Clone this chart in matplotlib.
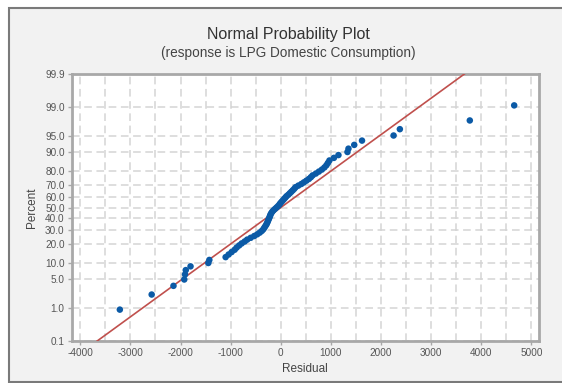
import matplotlib
matplotlib.use("Agg")
import matplotlib.pyplot as plt
from matplotlib.patches import Rectangle
from statistics import NormalDist
import numpy as np

plt.rcParams['font.family'] = ['Liberation Sans', 'DejaVu Sans']

title = "Normal Probability Plot"
subtitle = "(response is LPG Domestic Consumption)"
xlabel = "Residual"
ylabel = "Percent"

# sorted residuals
residuals = [
    -3210, -2575, -2140, -1925, -1910, -1895, -1800, -1445, -1425, -1100,
    -1040, -980, -920, -880, -830, -780, -720, -670, -600, -530,
    -470, -420, -380, -350, -330, -310, -290, -275, -262, -250,
    -238, -225, -215, -205, -190, -170, -145, -115, -85, -55,
    -30, -10, 15, 40, 65, 90, 115, 150, 180, 210,
    240, 270, 295, 350, 410, 460, 510, 560, 600, 635,
    700, 760, 820, 870, 910, 940, 970, 1060, 1150, 1330,
    1350, 1465, 1620, 2250, 2375, 3770, 4655,
]
line_mean = 0
line_sd = 1185

x_ticks = [-4000, -3000, -2000, -1000, 0, 1000, 2000, 3000, 4000, 5000]
y_ticks = [0.1, 1, 5, 10, 20, 30, 40, 50, 60, 70, 80, 90, 95, 99, 99.9]

nd = NormalDist()
n = len(residuals)
ranks = np.arange(1, n + 1)
pct = (ranks - 0.3) / (n + 0.4)
z = np.array([nd.inv_cdf(p) for p in pct])

fig = plt.figure(figsize=(5.62, 3.83), dpi=100)
fig.patch.set_facecolor('white')
# panel background
fig.patches.append(Rectangle((9 / 562, 0.003), 1.0, 1 - 8 / 383 - 0.003,
                             transform=fig.transFigure, facecolor='#f2f2f2',
                             edgecolor='#7a7a7a', linewidth=1.5, zorder=-5))

ax = fig.add_axes([71.7 / 562, 1 - 341 / 383, (539 - 71.7) / 562, (341 - 74) / 383])
ax.set_zorder(2)
ax.set_facecolor('white')

ylo, yhi = nd.inv_cdf(0.001), nd.inv_cdf(0.999)
ax.set_ylim(ylo, yhi)
ax.set_xlim(-4170, 5150)

# fitted line
zz = np.array([ylo, yhi])
ax.plot(line_mean + line_sd * zz, zz, color='#c0504d', lw=1.2, zorder=3)

ax.scatter(residuals, z, s=22, color='#0b5aa6', edgecolors='none', zorder=4)

ax.set_xticks(x_ticks)
ax.set_xticklabels([str(t) for t in x_ticks])
ax.set_xticks(np.arange(-4000, 5001, 500), minor=True)
ax.set_yticks([nd.inv_cdf(t / 100) for t in y_ticks])
ax.set_yticklabels([f"{t:.1f}" for t in y_ticks])

ax.grid(True, which='both', axis='x', color='#d4d4d4', linestyle=(0, (5, 3)), lw=1.1, zorder=0)
ax.grid(True, which='major', axis='y', color='#d4d4d4', linestyle=(0, (5, 3)), lw=1.1, zorder=0)
ax.set_axisbelow(True)

for s in ax.spines.values():
    s.set_color('#a8a8a8')
    s.set_linewidth(2)
ax.tick_params(axis='both', which='major', length=3, width=1, color='#a8a8a8',
               labelsize=7.2, labelcolor='#555555', pad=2)
ax.tick_params(axis='x', which='minor', length=0)

ax.set_xlabel(xlabel, fontsize=8.5, color='#444444', labelpad=4)
ax.set_ylabel(ylabel, fontsize=8.5, color='#444444', labelpad=5)

fig.text(0.513, 1 - 35 / 383, title, ha='center', va='center', fontsize=11.5, color='#333333')
fig.text(0.513, 1 - 53 / 383, subtitle, ha='center', va='center', fontsize=9.8, color='#444444')

fig.savefig("out.png", dpi=100, facecolor=fig.get_facecolor())
